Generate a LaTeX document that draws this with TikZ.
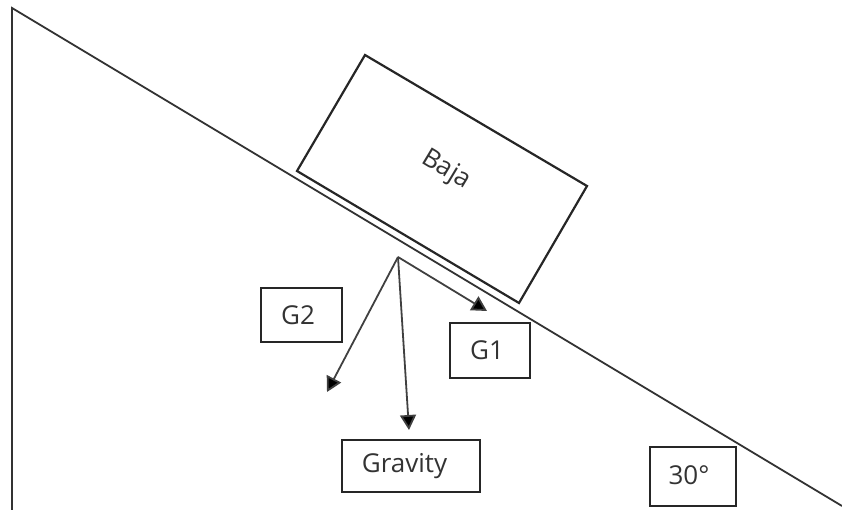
\documentclass[tikz,border=0pt]{standalone}
\usepackage{fontspec}
\setmainfont{Open Sans}
\usetikzlibrary{arrows.meta}
\tikzset{
  x=1pt,y=-1pt,
  line/.style={draw=black!80,line width=1.8pt},
  heavy/.style={draw=black!85,line width=2.2pt},
  label/.style={heavy,rectangle,inner sep=0pt,font=\fontsize{26}{30}\selectfont,text=black!80},
  force/.style={draw=black!75,line width=1.8pt,-{Triangle[length=15pt,width=16pt,fill=black]}}
}
\begin{document}
\begin{tikzpicture}
\useasboundingbox (0,0) rectangle (842,510);
\coordinate (top) at (12,8);
\coordinate (foot) at (12,510);
\coordinate (end) at (842,506);
\draw[line] (foot) -- (top) -- (end);
\coordinate (A) at (365,55);
\coordinate (B) at (587,186);
\coordinate (C) at (519,303);
\coordinate (D) at (297,171);
\draw[heavy] (A) -- (B) -- (C) -- (D) -- cycle;
\node[font=\fontsize{26}{30}\selectfont,text=black!80,rotate=-31] (baja) at (446,170) {Baja};
\node[label,minimum width=81pt,minimum height=54pt] (g2) at (301.5,315) {\kern-7pt G2};
\node[label,minimum width=80pt,minimum height=55pt] (g1) at (490,350.5) {\kern-6pt G1};
\node[label,minimum width=138pt,minimum height=52pt] (grav) at (411,466) {\kern-13pt Gravity};
\node[label,minimum width=86pt,minimum height=59pt] (ang) at (693,476.5) {\kern-8pt\raisebox{3pt}{30°}};
\coordinate (o) at (398,257);
\coordinate (t1) at (487,311);
\coordinate (t2) at (327,392);
\coordinate (t3) at (409,430);
\draw[force] (o) -- (t1);
\draw[force] (o) -- (t2);
\draw[force] (o) -- (t3);
\end{tikzpicture}
\end{document}
